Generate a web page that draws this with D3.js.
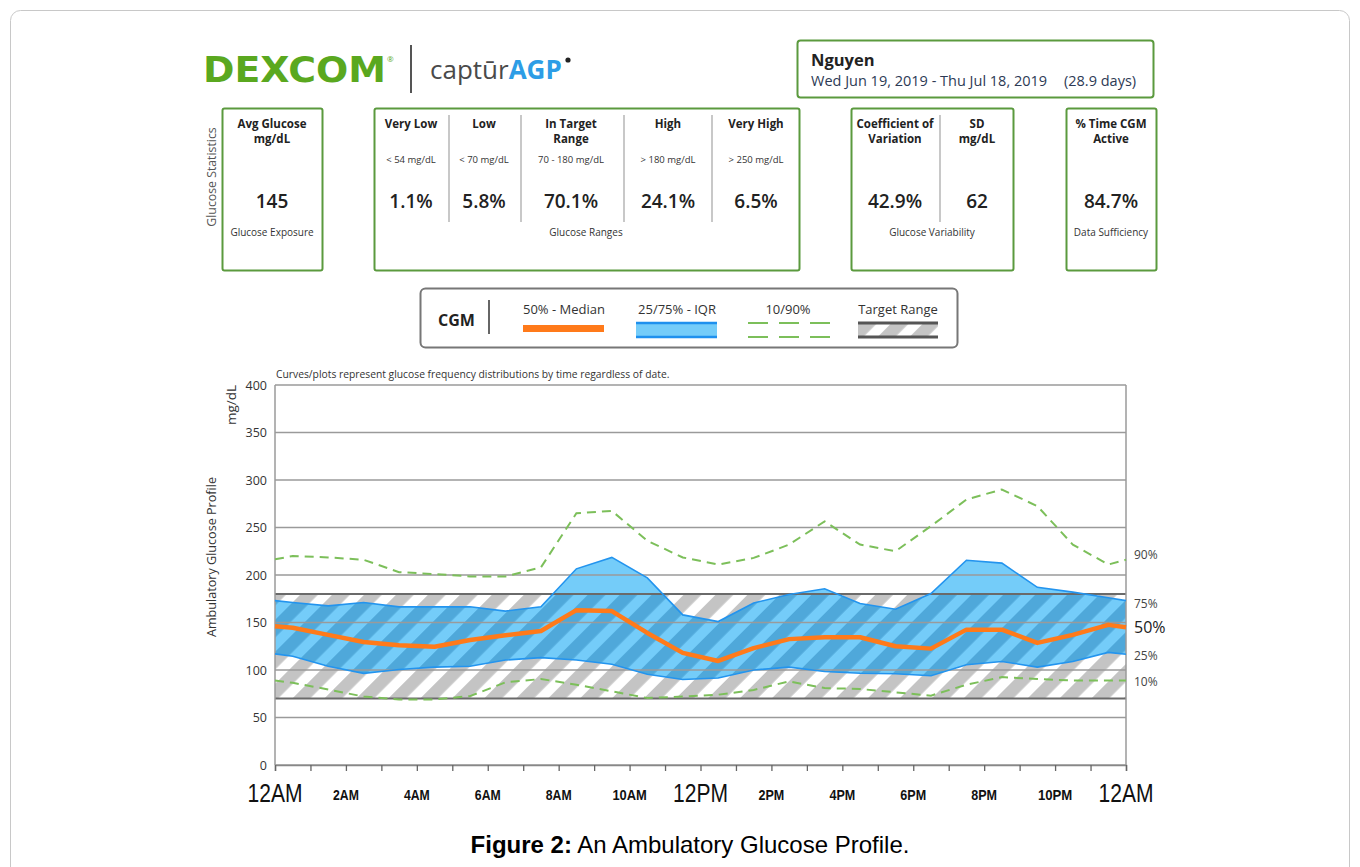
<!DOCTYPE html>
<html>
<head>
<meta charset="utf-8">
<script src="https://cdn.jsdelivr.net/npm/d3@7"></script>
<style>
  body { margin: 0; background: #fff; }
  svg { display: block; }
</style>
</head>
<body>
<script>
// hours where the percentile curves have a vertex (half hours + both ends)
const hours = [0, 0.5, 1.5, 2.5, 3.5, 4.5, 5.5, 6.5, 7.5, 8.5, 9.5, 10.5, 11.5,
  12.5, 13.5, 14.5, 15.5, 16.5, 17.5, 18.5, 19.5, 20.5, 21.5, 22.5, 23.5, 24];

const p10 = [89, 86.5, 79.5, 72, 69, 69, 72.5, 87, 90.5, 84.5, 77.5, 70.5, 72,
  74, 79, 88, 81, 80, 76.5, 73, 84.5, 92.5, 90.5, 89, 89, 89];
const p25 = [117, 114.5, 104, 96.5, 100.5, 103, 104, 110.5, 113, 110.5, 106, 95.5, 90,
  91.5, 100, 103, 98.5, 96.5, 96, 94, 105.5, 109, 103, 109, 118.5, 116.5];
const p50 = [146, 144.5, 137, 129.5, 126, 124.5, 131.5, 136.5, 141, 163, 162, 139, 118,
  109.5, 123, 132.5, 134.5, 134.5, 125, 122.5, 142.5, 142.5, 128.5, 137, 147.5, 145];
const p75 = [173, 171, 167.5, 171, 166.5, 166.5, 166.5, 162, 166.5, 206.5, 218.5, 197, 158,
  151, 170.5, 179.5, 185.5, 170, 164, 180.5, 215.5, 212.5, 187, 182, 176, 173];
const p90 = [216.5, 220, 218.5, 216, 203, 201, 198.5, 198.5, 208, 265, 267.5, 236, 218.5,
  211, 218, 232, 256.5, 232, 225, 251.5, 279.5, 290, 272.5, 232, 211, 216];

const yTicks = [0, 50, 100, 150, 200, 250, 300, 350, 400];
const xLabelHours = [0, 2, 4, 6, 8, 10, 12, 14, 16, 18, 20, 22, 24];
const xLabels = ['12AM', '2AM', '4AM', '6AM', '8AM', '10AM', '12PM', '2PM', '4PM', '6PM', '8PM', '10PM', '12AM'];
const targetRange = [70, 180];

const rangeNames = [['Very Low'], ['Low'], ['In Target', 'Range'], ['High'], ['Very High']];
const rangeLimits = ['< 54 mg/dL', '< 70 mg/dL', '70 - 180 mg/dL', '> 180 mg/dL', '> 250 mg/dL'];
const rangeValues = ['1.1%', '5.8%', '70.1%', '24.1%', '6.5%'];

const patientName = 'Nguyen';
const dateSpan = 'Wed Jun 19, 2019 - Thu Jul 18, 2019';
const daysSpan = '(28.9 days)';

const width = 1360;
const height = 867;
const font = '"Open Sans", sans-serif';
const green = '#5b9a3e';

const svg = d3.select('body').append('svg')
  .attr('width', width)
  .attr('height', height)
  .attr('font-family', font);

const defs = svg.append('defs');

const stripes = (id, color) => {
  const p = defs.append('pattern')
    .attr('id', id)
    .attr('patternUnits', 'userSpaceOnUse')
    .attr('width', 22.6)
    .attr('height', 10)
    .attr('patternTransform', 'rotate(45)');
  p.append('rect')
    .attr('width', 12.5)
    .attr('height', 10)
    .attr('fill', color);
};
stripes('grayStripes', '#c4c4c4');
stripes('blueStripes', '#4fa8da');

// outer frame
svg.append('rect')
  .attr('x', 10.5).attr('y', 10.5)
  .attr('width', 1339).attr('height', 900)
  .attr('rx', 10)
  .attr('fill', 'none')
  .attr('stroke', '#c8c8c8');

// ---- header / logo
svg.append('text')
  .attr('x', 203).attr('y', 82)
  .attr('font-family', '"DejaVu Sans", sans-serif')
  .attr('font-weight', 900)
  .attr('font-size', 36)
  .attr('fill', '#5aa81f')
  .attr('textLength', 183)
  .attr('lengthAdjust', 'spacingAndGlyphs')
  .text('DEXCOM');
svg.append('text')
  .attr('x', 387).attr('y', 62)
  .attr('font-size', 8)
  .attr('fill', '#5aa81f')
  .text('®');

svg.append('line')
  .attr('x1', 411).attr('x2', 411)
  .attr('y1', 45).attr('y2', 93)
  .attr('stroke', '#555').attr('stroke-width', 2);

const capt = svg.append('text')
  .attr('x', 430).attr('y', 79)
  .attr('font-size', 26);
capt.append('tspan').attr('fill', '#4a4a4a').text('captūr');
capt.append('tspan').attr('fill', '#2d9de6').attr('font-weight', 700).text('AGP');
svg.append('circle')
  .attr('cx', 568).attr('cy', 60).attr('r', 2.6)
  .attr('fill', '#222');

// name box
svg.append('rect')
  .attr('x', 797.5).attr('y', 40.5)
  .attr('width', 356).attr('height', 57)
  .attr('rx', 3)
  .attr('fill', 'none')
  .attr('stroke', green).attr('stroke-width', 2);
svg.append('text')
  .attr('x', 811).attr('y', 66)
  .attr('font-size', 16.5).attr('font-weight', 700).attr('fill', '#222')
  .text(patientName);
svg.append('text')
  .attr('x', 811).attr('y', 86)
  .attr('font-size', 14.5).attr('fill', '#2d3a55')
  .text(dateSpan);
svg.append('text')
  .attr('x', 1064).attr('y', 86)
  .attr('font-size', 14.5).attr('fill', '#2d3a55')
  .text(daysSpan);

// ---- glucose statistics boxes
svg.append('text')
  .attr('transform', 'translate(216,177) rotate(-90)')
  .attr('text-anchor', 'middle')
  .attr('font-size', 12.3).attr('fill', '#555')
  .text('Glucose Statistics');

const statBox = (x0, x1) => svg.append('rect')
  .attr('x', x0 + 0.5).attr('y', 108.5)
  .attr('width', x1 - x0).attr('height', 162)
  .attr('rx', 2)
  .attr('fill', 'none')
  .attr('stroke', green).attr('stroke-width', 2);

const statCol = (cx, title, limit, value) => {
  title.forEach((t, i) => {
    svg.append('text')
      .attr('x', cx).attr('y', 128 + i * 15)
      .attr('text-anchor', 'middle')
      .attr('font-size', 11.5).attr('font-weight', 700).attr('fill', '#222')
      .text(t);
  });
  if (limit) {
    svg.append('text')
      .attr('x', cx).attr('y', 163)
      .attr('text-anchor', 'middle')
      .attr('font-size', 9.5).attr('fill', '#333')
      .text(limit);
  }
  svg.append('text')
    .attr('x', cx).attr('y', 208)
    .attr('text-anchor', 'middle')
    .attr('font-size', 19).attr('font-weight', 600).attr('fill', '#222')
    .text(value);
};
const statFoot = (cx, t) => svg.append('text')
  .attr('x', cx).attr('y', 236)
  .attr('text-anchor', 'middle')
  .attr('font-size', 10).attr('fill', '#333')
  .text(t);
const sep = x => svg.append('line')
  .attr('x1', x).attr('x2', x)
  .attr('y1', 115).attr('y2', 222)
  .attr('stroke', '#c8c8c8').attr('stroke-width', 2);

statBox(222, 322);
statCol(272, ['Avg Glucose', 'mg/dL'], null, '145');
statFoot(272, 'Glucose Exposure');

statBox(374, 799);
const rangeCx = [411, 484, 571, 668, 756];
rangeNames.forEach((n, i) => statCol(rangeCx[i], n, rangeLimits[i], rangeValues[i]));
[449, 521, 624, 712].forEach(sep);
statFoot(586, 'Glucose Ranges');

statBox(851, 1013);
statCol(895, ['Coefficient of', 'Variation'], null, '42.9%');
statCol(977, ['SD', 'mg/dL'], null, '62');
sep(940);
statFoot(932, 'Glucose Variability');

statBox(1066, 1156);
statCol(1111, ['% Time CGM', 'Active'], null, '84.7%');
statFoot(1111, 'Data Sufficiency');

// ---- legend
svg.append('rect')
  .attr('x', 420.5).attr('y', 288.5)
  .attr('width', 537).attr('height', 59)
  .attr('rx', 5)
  .attr('fill', 'none')
  .attr('stroke', '#777').attr('stroke-width', 2);
svg.append('text')
  .attr('x', 438).attr('y', 326)
  .attr('font-size', 16).attr('font-weight', 700).attr('fill', '#222')
  .text('CGM');
svg.append('line')
  .attr('x1', 489).attr('x2', 489).attr('y1', 300).attr('y2', 334)
  .attr('stroke', '#333').attr('stroke-width', 1.5);

const legendTitle = (cx, t) => svg.append('text')
  .attr('x', cx).attr('y', 314)
  .attr('text-anchor', 'middle')
  .attr('font-size', 13).attr('fill', '#333')
  .text(t);

legendTitle(564, '50% - Median');
svg.append('rect')
  .attr('x', 523).attr('y', 325).attr('width', 81).attr('height', 7)
  .attr('fill', '#ff7a1a');

legendTitle(677, '25/75% - IQR');
svg.append('rect')
  .attr('x', 636).attr('y', 322).attr('width', 81).attr('height', 16)
  .attr('fill', '#74ccf9');
[323, 337].forEach(yy => svg.append('line')
  .attr('x1', 636).attr('x2', 717).attr('y1', yy).attr('y2', yy)
  .attr('stroke', '#1e90ee').attr('stroke-width', 2.5));

legendTitle(788, '10/90%');
[323, 337].forEach(yy => svg.append('line')
  .attr('x1', 748).attr('x2', 830).attr('y1', yy).attr('y2', yy)
  .attr('stroke', '#7cbf5a').attr('stroke-width', 2.2)
  .attr('stroke-dasharray', '20,11'));

legendTitle(898, 'Target Range');
svg.append('rect')
  .attr('x', 858).attr('y', 322).attr('width', 80).attr('height', 16)
  .attr('fill', 'url(#grayStripes)');
[323, 337].forEach(yy => svg.append('line')
  .attr('x1', 858).attr('x2', 938).attr('y1', yy).attr('y2', yy)
  .attr('stroke', '#555').attr('stroke-width', 3));

// ---- AGP chart
const x = d3.scaleLinear().domain([0, 24]).range([275, 1126]);
const y = d3.scaleLinear().domain([0, 400]).range([765, 385]);

svg.append('text')
  .attr('x', 276).attr('y', 378)
  .attr('font-size', 10.3).attr('fill', '#333')
  .text('Curves/plots represent glucose frequency distributions by time regardless of date.');

svg.append('text')
  .attr('transform', 'translate(236,405) rotate(-90)')
  .attr('text-anchor', 'middle')
  .attr('font-size', 13.5).attr('fill', '#333')
  .text('mg/dL');
svg.append('text')
  .attr('transform', 'translate(216,557) rotate(-90)')
  .attr('text-anchor', 'middle')
  .attr('font-size', 12.6).attr('fill', '#333')
  .text('Ambulatory Glucose Profile');

const pts = arr => hours.map((h, i) => [h, arr[i]]);

// target range background
svg.append('rect')
  .attr('x', x(0)).attr('y', y(targetRange[1]))
  .attr('width', x(24) - x(0))
  .attr('height', y(targetRange[0]) - y(targetRange[1]))
  .attr('fill', 'url(#grayStripes)');

// IQR band
const band = d3.area()
  .x((d, i) => x(hours[i]))
  .y0((d, i) => y(p25[i]))
  .y1((d, i) => y(p75[i]));

svg.append('path')
  .datum(hours)
  .attr('d', band)
  .attr('fill', '#74ccf9');

defs.append('clipPath').attr('id', 'iqrClip')
  .append('path').datum(hours).attr('d', band);

svg.append('rect')
  .attr('x', x(0)).attr('y', y(targetRange[1]))
  .attr('width', x(24) - x(0))
  .attr('height', y(targetRange[0]) - y(targetRange[1]))
  .attr('fill', 'url(#blueStripes)')
  .attr('clip-path', 'url(#iqrClip)');

// grid
svg.append('g')
  .selectAll('line')
  .data(yTicks)
  .join('line')
  .attr('x1', x(0)).attr('x2', x(24))
  .attr('y1', d => y(d)).attr('y2', d => y(d))
  .attr('stroke', '#9a9a9a').attr('stroke-width', 1.3);

svg.append('g')
  .selectAll('line')
  .data(targetRange)
  .join('line')
  .attr('x1', x(0)).attr('x2', x(24))
  .attr('y1', d => y(d)).attr('y2', d => y(d))
  .attr('stroke', '#6a6a6a').attr('stroke-width', 2);

// y axis labels
const yAxis = d3.axisLeft(y).tickValues(yTicks).tickSize(0).tickPadding(8);
const gy = svg.append('g')
  .attr('transform', `translate(${x(0)},0)`)
  .call(yAxis);
gy.select('.domain').remove();
gy.selectAll('text')
  .attr('font-family', font)
  .attr('font-size', 12.5)
  .attr('fill', '#333');

// x axis ticks
const xAxis = d3.axisBottom(x).tickValues(d3.range(0, 25)).tickSize(6).tickFormat('');
const gx = svg.append('g')
  .attr('transform', `translate(0,${y(0)})`)
  .call(xAxis);
gx.select('.domain').attr('stroke', '#888').attr('stroke-width', 1.5);
gx.selectAll('.tick line').attr('stroke', '#666').attr('stroke-width', 1.3);

svg.append('g')
  .selectAll('text')
  .data(xLabelHours)
  .join('text')
  .attr('x', d => x(d))
  .attr('y', (d, i) => xLabels[i].startsWith('12') ? 802 : 800)
  .attr('text-anchor', 'middle')
  .attr('font-family', '"Liberation Sans", Arial, sans-serif')
  .attr('font-size', (d, i) => xLabels[i].startsWith('12') ? 25 : 14.5)
  .attr('font-weight', (d, i) => xLabels[i].startsWith('12') ? 400 : 700)
  .attr('fill', '#111')
  .attr('textLength', (d, i) => xLabels[i].startsWith('12') ? 55 : xLabels[i].length * 8.6)
  .attr('lengthAdjust', 'spacingAndGlyphs')
  .text((d, i) => xLabels[i]);

// side frame lines
[0, 24].forEach(h => svg.append('line')
  .attr('x1', x(h)).attr('x2', x(h))
  .attr('y1', y(400)).attr('y2', y(0))
  .attr('stroke', '#9a9a9a').attr('stroke-width', 1.5));

// percentile curves
const line = d3.line().x(d => x(d[0])).y(d => y(d[1]));

[p25, p75].forEach(arr => svg.append('path')
  .datum(pts(arr))
  .attr('d', line)
  .attr('fill', 'none')
  .attr('stroke', '#2394ee')
  .attr('stroke-width', 1.6));

[p10, p90].forEach(arr => svg.append('path')
  .datum(pts(arr))
  .attr('d', line)
  .attr('fill', 'none')
  .attr('stroke', '#7cbf5a')
  .attr('stroke-width', 2)
  .attr('stroke-dasharray', '9,6'));

svg.append('path')
  .datum(pts(p50))
  .attr('d', line)
  .attr('fill', 'none')
  .attr('stroke', '#ff7a1a')
  .attr('stroke-width', 4.5)
  .attr('stroke-linejoin', 'round');

// right side labels
const endLabels = [
  { t: '90%', v: p90[p90.length - 1], dy: -5, size: 12 },
  { t: '75%', v: p75[p75.length - 1], dy: 3, size: 12 },
  { t: '50%', v: p50[p50.length - 1], dy: 0, size: 16 },
  { t: '25%', v: p25[p25.length - 1], dy: 1, size: 12 },
  { t: '10%', v: p10[p10.length - 1], dy: 1, size: 12 }
];
svg.append('g')
  .selectAll('text')
  .data(endLabels)
  .join('text')
  .attr('x', 1134)
  .attr('y', d => y(d.v) + d.dy)
  .attr('dy', '0.35em')
  .attr('font-size', d => d.size)
  .attr('fill', d => d.size > 12 ? '#222' : '#444')
  .text(d => d.t);

// caption
const cap = svg.append('text')
  .attr('x', 690).attr('y', 853)
  .attr('text-anchor', 'middle')
  .attr('font-family', '"Liberation Sans", Arial, sans-serif')
  .attr('font-size', 24)
  .attr('fill', '#000');
cap.append('tspan').attr('font-weight', 700).text('Figure 2:');
cap.append('tspan').text(' An Ambulatory Glucose Profile.');
</script>
</body>
</html>
